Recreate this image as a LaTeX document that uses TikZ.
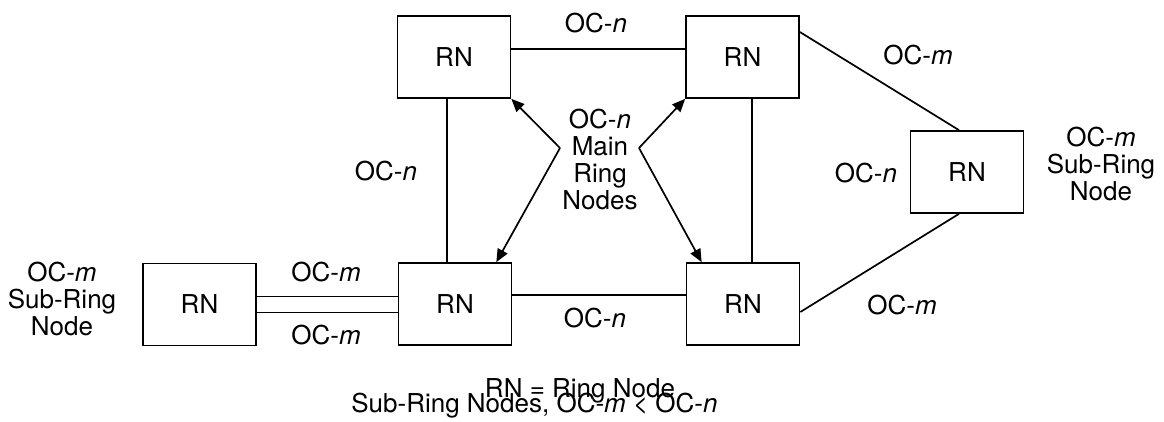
\documentclass[tikz,border=0pt]{standalone}
\usepackage{fontspec}
\setsansfont{TeX Gyre Heros}
\usetikzlibrary{arrows.meta}
\tikzset{
    ringnode/.style={draw,line width=0.85pt,minimum width=56.5pt,minimum height=41pt,inner sep=0pt},
    link/.style={black,line width=0.85pt},
    pointer/.style={link,-{Triangle[length=6.5pt,width=5.5pt]}},
    lbl/.style={inner sep=0pt,align=center}
}
\newcommand{\OC}[1]{OC-\textit{#1}}

\begin{document}
\begin{tikzpicture}[x=0.5pt,y=-0.5pt,font=\sffamily\fontsize{13}{13.5}\selectfont]
\useasboundingbox (0,0) rectangle (1164,422);
% main ring
\node[ringnode](tl) at (454,57){RN};
\node[ringnode](tr) at (742.5,57){RN};
\node[ringnode](bl) at (455,304){RN};
\node[ringnode](br) at (743,304){RN};
% sub-ring nodes
\node[ringnode](sr) at (967,172){RN};
\node[ringnode](sl) at (199.5,304.5){RN};
\draw[link]([yshift=4pt]tl.east)--([yshift=4pt]tr.west);
\draw[link]([xshift=-3.5pt]tl.south)--([xshift=-3.5pt]tl.south |- bl.north);
\draw[link]([xshift=4.75pt]tr.south)--([xshift=4.75pt]tr.south |- br.north);
\draw[link]([yshift=4.5pt]bl.east)--([yshift=4.5pt]bl.east -| br.west);
\draw[link]([yshift=12.5pt]tr.east)--([xshift=-4pt]sr.north);
\draw[link]([yshift=-4pt]br.east)--([xshift=-4pt]sr.south);
\draw[link]([yshift=4pt]sl.east)--([yshift=4pt]sl.east -| bl.west);
\draw[link]([yshift=-4pt]sl.east)--([yshift=-4pt]sl.east -| bl.west);
% pointers to the main ring nodes
\coordinate(lelbow) at (560,148);
\coordinate(relbow) at (639,148);
\draw[pointer](lelbow)--(tl.south east);
\draw[pointer](lelbow)--([xshift=-8pt]bl.north east);
\draw[pointer](relbow)--(tr.south west);
\draw[pointer](relbow)--([xshift=8pt]br.north west);
% labels
\node[lbl](ntop) at (596,23){\OC{n}};
\node[lbl](nleft) at (386,171){\OC{n}};
\node[lbl](nbot) at (595,318){\OC{n}};
\node[lbl](nsub) at (866,173){\OC{n}};
\node[lbl](mtop) at (918,55){\OC{m}};
\node[lbl](mbot) at (902,305){\OC{m}};
\node[lbl](mup) at (326,272){\OC{m}};
\node[lbl](mdown) at (326,335){\OC{m}};
\node[lbl](main) at (600,159){\OC{n}\\Main\\Ring\\Nodes};
\node[lbl](subr) at (1101,164){\OC{m}\\Sub-Ring\\Node};
\node[lbl](subl) at (62,298.5){\OC{m}\\Sub-Ring\\Node};
\node[lbl,anchor=base](key) at (580,398){RN = Ring Node};
\node[lbl,anchor=base](note) at (534.5,413){Sub-Ring Nodes, \OC{m} < \OC{n}};
\end{tikzpicture}
\end{document}
